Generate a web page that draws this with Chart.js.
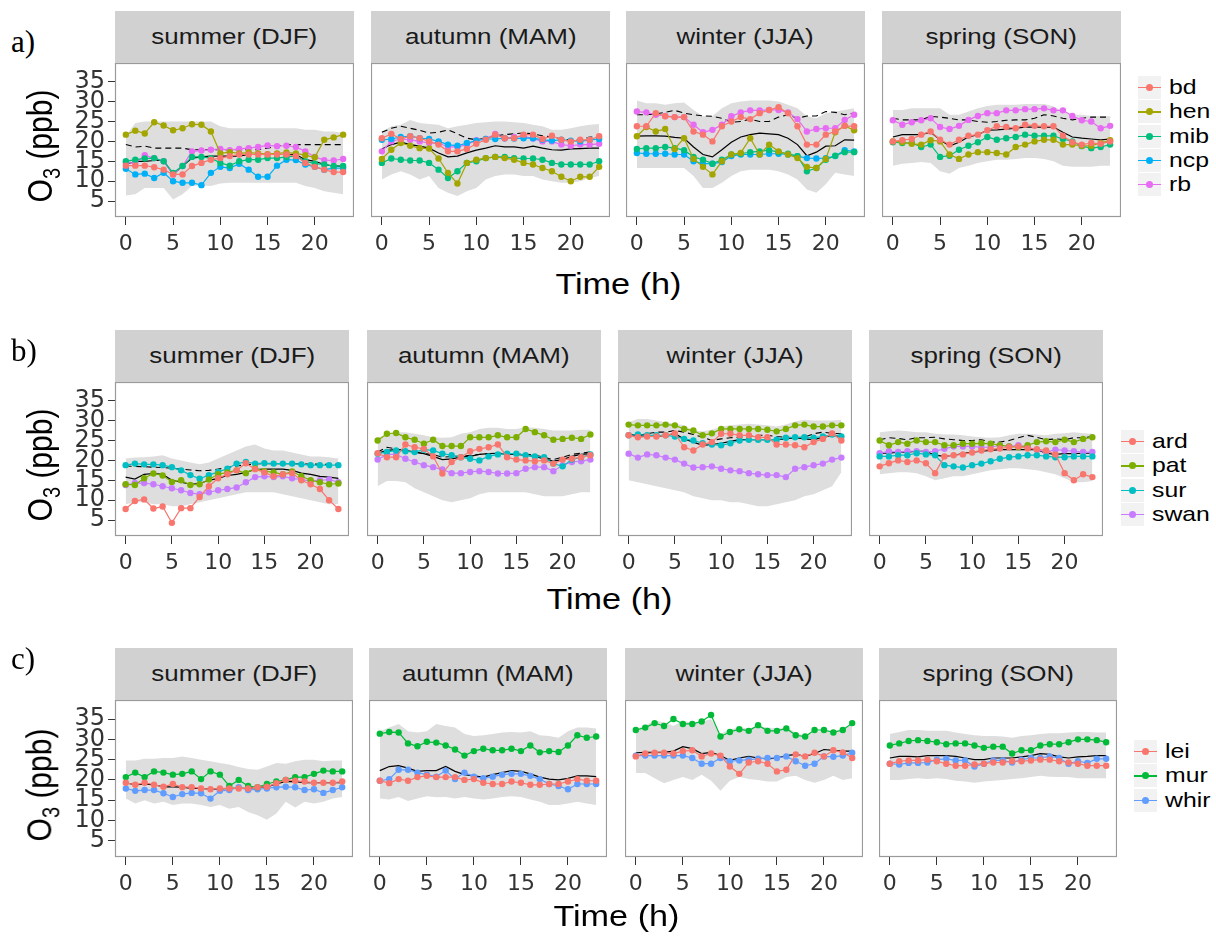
<!DOCTYPE html>
<html>
<head>
<meta charset="utf-8">
<script src="https://cdn.jsdelivr.net/npm/chart.js@4.4.1/dist/chart.umd.min.js"></script>
<style>
  body { margin:0; background:#fff; width:1216px; height:936px; position:relative; overflow:hidden;
         font-family:"Liberation Sans", Arial, sans-serif; }
  .strip { position:absolute; background:#d1d1d1; color:#1a1a1a; font-size:22px;
           display:flex; align-items:center; justify-content:center; }
  .strip span, .xt span, .leg span { display:inline-block; transform:scaleX(1.18); transform-origin:left center; }
  .strip span { transform-origin:center; }
  .xt { position:absolute; font-size:29px; color:#000; text-align:center; width:300px; }
  .xt span { transform-origin:center; }
  .yt { position:absolute; font-size:30px; color:#000; width:200px; height:36px; line-height:36px;
        text-align:center; transform:rotate(-90deg) scaleY(1.15); }
  .yt sub { font-size:20px; }
  .tag { position:absolute; font-family:"Liberation Serif", "Times New Roman", serif; font-size:31px; color:#000; }
  .leg { position:absolute; font-size:21px; color:#000; }
  .key { position:absolute; width:23px; height:23px; background:#f2f2f2; border:1px solid #fff; }
  .key i { position:absolute; left:0; right:0; top:11px; height:1.3px; }
  .key b { position:absolute; left:8px; top:8px; width:7px; height:7px; border-radius:50%; }
  canvas { position:absolute; }
</style>
</head>
<body>
<script>
// ---- data ----
const hours = [0,1,2,3,4,5,6,7,8,9,10,11,12,13,14,15,16,17,18,19,20,21,22,23];
const xTicks = [0,5,10,15,20];
const yTicks = [5,10,15,20,25,30,35];
const seasons = ['summer (DJF)','autumn (MAM)','winter (JJA)','spring (SON)'];

// row a) sites, each [DJF, MAM, JJA, SON]
const sitesA = ['bd','hen','mib','ncp','rb'];
const colorsA = ['#F8766D','#A3A500','#00BF7D','#00B0F6','#E76BF3'];
const bd = [
  [13.9,13.9,13.9,13.5,12.9,11.7,11.7,13.8,14.6,15.4,15.8,16.3,16.7,16.7,16.7,16.7,16.7,16.7,16.3,14.6,13.6,12.9,12.3,12.3],
  [20.8,21.9,20.6,21.3,20.8,20.0,19.2,17.5,17.5,18.1,19.4,20.4,21.7,20.8,20.8,21.7,21.7,20.6,21.4,20.4,20.0,20.4,20.4,21.3],
  [23.8,23.8,27.1,26.3,26.1,26.1,22.5,21.7,20.0,23.8,25.0,26.1,25.6,27.1,27.9,28.6,27.1,23.8,19.2,19.2,21.7,22.5,23.9,23.8],
  [20.0,20.3,20.6,21.7,22.5,20.4,19.2,20.4,21.4,21.7,22.8,23.8,23.6,23.3,24.2,23.9,23.8,23.8,21.4,19.8,19.2,19.6,19.4,20.0]];
const hen = [
  [21.7,22.7,22.0,24.8,24.0,22.8,23.3,24.3,24.2,22.5,17.0,17.3,17.0,17.2,17.0,16.8,17.0,17.2,17.0,16.5,16.0,20.4,21.0,21.7],
  [15.6,17.9,19.6,18.9,18.3,18.2,15.7,12.1,9.4,14.6,15.4,15.8,16.1,15.8,15.4,14.6,14.2,13.3,12.5,11.1,10.0,11.1,11.1,13.6],
  [21.3,23.6,22.5,23.1,18.1,20.8,15.6,13.6,11.7,15.0,16.7,17.1,20.8,16.7,19.2,17.5,16.7,15.8,13.6,13.3,15.6,22.3,23.9,22.8],
  [20.0,19.8,19.4,19.2,20.3,20.0,16.7,15.6,16.7,17.3,17.3,17.1,16.7,18.6,19.2,20.0,20.4,20.4,19.2,19.2,18.9,18.9,19.6,20.3]];
const mib = [
  [15.0,15.4,15.7,15.8,15.0,12.1,13.8,16.1,16.1,15.8,14.6,13.9,15.0,15.4,15.4,15.8,15.8,16.1,16.3,15.0,14.4,14.2,13.8,13.8],
  [14.6,15.7,15.4,15.2,15.2,14.6,12.9,10.8,12.5,14.6,15.0,15.8,16.1,16.1,15.8,15.7,15.7,15.4,14.6,14.2,14.2,14.2,14.2,15.0],
  [18.1,18.3,18.3,18.6,18.3,17.8,16.1,15.4,14.4,15.4,16.7,16.9,17.3,17.5,17.8,17.3,16.9,16.3,12.5,13.3,15.4,16.4,17.3,17.3],
  [19.8,19.6,19.6,18.6,19.2,16.1,16.4,17.9,18.9,19.8,21.1,20.4,20.8,21.1,21.7,21.4,21.4,21.4,20.6,20.0,18.8,18.3,18.6,19.2]];
const ncp = [
  [13.1,11.7,11.9,10.8,12.1,10.0,9.6,9.6,9.0,12.1,13.6,13.3,14.4,12.9,11.1,11.1,13.9,15.4,15.3,14.2,13.6,12.9,13.3,13.3],
  [20.4,20.6,21.1,21.3,20.8,20.6,20.0,19.2,18.9,19.6,20.2,20.6,20.6,20.8,20.7,20.8,20.8,20.4,20.2,20.4,20.2,20.0,20.4,20.6],
  [17.1,16.9,16.9,16.9,16.7,16.7,15.0,14.4,14.4,14.8,16.3,16.7,16.7,16.7,16.9,16.9,16.7,16.3,15.8,15.7,15.8,16.3,17.8,17.5],
  null];
const rb = [
  [14.6,14.6,16.5,15.8,15.0,11.7,13.8,17.5,17.7,17.9,18.1,17.8,18.1,18.3,18.6,19.0,18.8,18.9,18.6,17.5,16.1,15.3,15.2,15.6],
  [17.5,20.0,20.6,20.4,20.0,19.6,19.6,18.6,18.6,19.2,20.3,20.6,21.9,20.8,21.1,21.3,20.7,20.0,20.0,19.2,18.9,19.2,19.2,19.4],
  [27.5,27.3,26.7,26.4,26.1,26.1,24.2,22.3,22.9,24.2,26.3,27.3,27.8,27.8,27.9,27.9,27.3,25.6,22.5,23.1,23.3,23.3,25.4,26.7],
  [25.3,24.2,24.8,25.3,25.8,23.6,23.1,23.9,25.4,26.4,27.1,27.1,27.8,27.8,28.1,28.1,28.3,27.8,27.8,26.4,25.3,25.0,23.3,23.9]];
const meanA = [
  [14.2,15.0,15.0,15.2,15.2,11.7,13.8,15.8,16.1,16.3,16.3,16.3,16.3,16.7,16.7,16.7,16.7,16.7,16.7,15.4,15.0,14.2,13.8,13.8],
  [18.1,19.2,19.8,19.2,18.8,18.3,17.1,16.1,16.3,17.1,17.8,18.3,18.9,18.6,18.6,18.3,18.8,18.3,17.9,17.8,18.1,18.2,18.3,18.3],
  [21.3,21.4,21.4,21.3,21.0,20.8,18.6,16.7,16.1,17.9,19.8,21.1,21.7,22.1,21.9,21.7,20.8,19.2,16.4,17.3,18.8,18.9,20.4,20.3],
  [21.1,21.7,21.7,21.7,22.3,20.4,18.8,19.8,21.1,21.7,22.8,22.9,23.1,23.3,23.6,23.6,23.6,23.6,22.3,21.1,20.8,20.6,20.4,20.6]];
const dashA = [
  [19.2,18.6,18.8,18.3,18.3,18.3,18.3,17.9,17.9,17.9,17.9,17.9,17.9,17.9,17.9,18.3,18.8,19.2,19.2,19.2,19.2,19.2,19.2,19.2],
  [22.3,23.3,23.8,23.3,22.8,22.1,22.3,22.9,21.9,20.8,20.4,20.8,21.4,21.7,21.9,22.1,21.9,21.4,21.1,20.6,20.4,20.4,21.1,21.1],
  [26.7,26.7,26.9,27.3,27.8,27.1,26.7,26.4,26.3,25.8,24.8,25.0,25.6,25.0,25.0,26.1,26.7,25.8,26.4,26.4,27.5,27.3,26.7,27.1],
  [25.8,25.4,25.4,25.4,26.3,26.1,25.8,25.4,25.4,25.0,24.8,25.0,25.3,25.4,25.4,25.8,26.7,26.4,25.8,25.4,25.8,26.1,26.1,26.1]];
const hiA = [
  [21.4,24.6,25.0,25.0,25.0,25.0,25.0,25.0,25.0,25.0,23.8,23.3,23.3,23.3,23.3,23.3,23.3,23.3,23.3,22.9,22.9,22.5,22.5,22.1],
  [22.5,23.8,24.2,25.4,24.6,24.4,24.2,23.3,23.8,24.2,24.6,24.8,25.0,25.0,24.8,24.6,24.2,23.8,22.9,22.9,23.3,23.8,24.2,24.4],
  [30.3,29.6,29.6,29.2,29.6,29.8,27.9,26.3,26.4,28.3,29.6,30.0,30.3,30.3,30.3,30.0,29.2,28.3,26.3,25.8,27.1,27.5,27.9,28.3],
  [27.9,27.9,28.3,28.3,28.3,28.3,26.7,26.7,27.5,28.3,28.9,29.2,29.2,29.2,29.4,29.4,29.4,28.8,27.5,26.7,26.7,26.4,26.4,26.3]];
const loA = [
  [6.4,6.7,8.3,8.3,8.3,5.4,6.7,8.8,8.9,8.8,9.4,9.6,9.6,9.6,9.6,9.6,9.6,9.6,9.6,8.8,8.3,7.5,7.1,6.7],
  [10.4,11.7,12.5,11.7,10.4,11.3,8.3,7.1,6.3,7.5,8.3,10.4,11.3,11.7,11.7,11.3,11.3,10.4,10.0,9.6,9.6,10.0,10.8,11.3],
  [13.3,13.3,13.3,13.3,13.3,13.3,11.3,8.3,8.3,9.6,11.3,12.5,12.9,12.9,12.9,12.5,11.7,10.4,7.9,7.1,9.2,12.1,11.7,11.3],
  [13.9,14.4,14.6,14.8,14.6,12.5,11.9,13.3,13.9,14.6,15.0,15.4,15.4,15.6,15.8,15.8,15.6,15.0,13.9,13.6,13.6,13.6,13.9,13.9]];

// row b)
const sitesB = ['ard','pat','sur','swan'];
const colorsB = ['#F8766D','#7CAE00','#00BFC4','#C77CFF'];
const ard = [
  [7.8,9.8,10.2,7.9,8.4,4.3,8.0,8.0,10.8,13.5,15.5,16.5,17.5,19.3,17.8,17.0,16.0,16.5,16.8,15.0,14.0,12.8,10.0,7.8],
  [21.8,20.8,20.8,24.0,23.3,22.9,21.0,16.7,19.6,20.8,22.3,22.9,23.3,24.0,20.8,20.2,20.0,19.8,20.0,19.2,20.2,20.4,20.8,21.3],
  [26.3,25.8,26.0,26.0,26.3,26.8,23.3,22.5,24.0,24.6,26.7,26.7,26.3,26.3,25.8,25.8,24.0,24.0,23.8,23.3,24.6,25.4,26.8,25.0],
  [18.5,19.3,20.0,19.6,20.0,19.3,16.8,21.0,21.3,21.5,22.0,22.5,22.8,23.0,23.3,23.5,23.0,22.8,22.5,21.5,16.8,15.0,16.5,15.8]];
const pat = [
  [14.0,13.8,15.5,16.7,16.2,14.6,15.0,13.8,14.0,15.2,16.5,17.0,17.5,16.8,18.0,17.3,17.0,16.5,17.2,16.0,15.0,14.5,14.0,14.2],
  [25.0,26.7,26.9,25.8,25.2,24.2,25.2,23.6,23.6,23.6,25.8,25.8,25.8,26.3,25.8,25.8,27.9,27.1,26.3,25.2,25.4,25.7,25.4,26.5],
  [29.0,28.8,28.8,28.8,29.0,28.8,27.9,27.5,26.3,26.8,27.9,27.9,27.9,27.9,27.9,27.7,27.3,27.9,28.8,29.0,28.5,28.5,28.8,28.8],
  [25.0,23.8,24.6,24.2,25.0,24.6,24.6,23.8,23.8,24.2,24.2,24.3,24.2,23.8,23.5,23.3,23.8,24.6,24.8,24.6,25.2,24.6,25.4,25.8]];
const sur = [
  [18.8,19.2,19.0,19.0,18.8,18.3,17.5,16.3,15.4,16.3,17.1,17.9,19.2,19.6,19.2,19.3,19.2,19.2,19.2,19.0,18.8,18.8,18.8,18.8],
  [21.7,22.1,22.5,22.3,22.1,22.7,22.5,21.7,21.3,20.8,20.4,20.0,21.0,21.5,21.7,21.7,21.3,21.0,20.8,19.2,18.5,20.2,20.8,21.5],
  [26.3,26.5,26.3,26.3,26.3,26.0,25.4,25.0,24.3,24.0,23.8,24.3,25.0,25.2,25.2,25.2,25.2,25.7,25.8,25.8,25.7,26.0,26.5,26.0],
  [21.0,21.0,21.3,21.3,21.8,21.5,21.3,18.8,18.5,18.2,18.8,19.2,19.8,20.4,20.8,21.0,21.3,21.3,21.0,20.8,20.8,21.0,21.0,21.0]];
const swan = [
  [13.8,14.3,14.3,14.0,13.5,13.0,12.5,11.8,11.5,12.0,12.5,12.8,13.2,14.5,15.8,16.0,15.8,16.0,15.5,15.2,14.8,15.0,15.2,14.5],
  [20.2,21.5,21.5,20.4,19.6,18.8,18.3,17.7,16.8,16.8,17.1,17.3,17.1,16.7,16.7,16.8,17.9,18.3,18.3,17.3,18.8,19.6,19.8,20.2],
  [21.7,20.7,21.5,21.3,20.7,20.2,19.2,18.2,18.3,18.5,17.9,17.5,17.3,16.8,16.5,16.3,16.3,15.8,17.9,18.3,18.8,19.2,20.2,20.7],
  [21.8,22.3,22.1,22.3,22.3,22.1,22.3,22.9,23.5,23.5,23.5,23.3,23.3,23.8,23.5,23.8,23.3,22.7,22.1,22.7,22.5,22.3,22.1,22.1]];
const meanB = [
  [15.8,15.3,16.5,16.7,16.5,15.0,14.5,14.0,14.2,15.0,15.5,16.2,16.5,17.0,17.7,17.8,17.8,17.8,17.5,16.8,16.5,16.0,15.8,15.5],
  [21.8,22.5,22.7,22.5,22.1,21.7,21.0,20.2,20.4,20.8,21.0,21.5,21.7,21.8,21.5,21.5,21.3,21.0,20.4,19.8,20.2,21.0,21.5,21.7],
  [26.5,26.3,26.0,26.0,26.3,26.7,25.4,24.6,23.8,24.0,24.3,24.8,25.2,25.2,25.2,25.2,25.2,25.4,25.7,25.4,25.2,25.8,26.3,26.0],
  [21.8,21.8,22.1,22.1,22.3,22.3,21.3,21.0,21.3,21.7,22.1,22.3,22.5,22.7,22.7,22.7,22.7,22.7,21.8,21.5,21.7,21.7,21.8,21.8]];
const dashB = [
  [18.6,18.5,18.4,18.3,18.2,18.0,17.8,17.6,17.4,17.5,17.8,18.2,18.6,18.9,19.1,19.2,19.2,19.2,19.2,19.1,19.1,19.0,19.0,19.0],
  [22.1,23.3,22.9,22.3,22.1,21.7,21.5,20.8,21.0,21.0,21.3,21.5,21.7,21.8,21.7,21.5,21.5,21.3,20.8,20.2,20.8,21.5,21.8,22.1],
  [26.5,26.3,26.7,27.1,27.1,27.5,27.1,26.5,25.8,25.0,25.4,25.7,25.8,26.0,26.3,26.3,26.0,25.8,25.7,25.8,26.7,27.1,26.8,26.7],
  [25.2,25.7,25.5,25.2,25.7,25.7,25.8,25.4,25.2,25.0,25.0,25.2,24.6,24.6,25.0,25.7,26.3,25.8,25.2,25.4,25.2,25.7,25.7,26.0]];
const hiB = [
  [20.5,20.7,20.8,21.0,21.3,20.5,20.0,19.5,19.0,19.5,20.5,21.5,22.5,23.5,24.0,23.0,22.5,22.5,22.0,21.5,21.0,21.0,20.8,20.5],
  [25.8,26.3,27.1,27.1,26.7,26.3,25.8,25.7,25.8,26.7,27.1,27.9,28.2,28.2,27.9,27.9,28.3,28.2,27.9,27.5,27.5,27.5,27.7,27.7],
  [29.6,30.4,30.4,30.0,29.6,29.2,28.8,27.5,27.3,27.7,28.5,28.8,29.0,29.2,29.0,28.8,28.5,29.0,29.8,30.2,30.0,30.0,30.0,30.2],
  [27.1,27.3,27.5,27.3,27.1,27.1,26.7,26.5,26.5,26.3,26.0,25.8,25.7,25.8,26.3,26.7,26.7,26.5,26.3,26.7,26.8,27.1,26.8,26.7]];
const loB = [
  [9.0,9.5,9.5,9.0,9.0,8.5,8.5,9.0,9.5,10.0,10.5,11.0,11.5,12.0,12.0,12.0,12.0,11.5,11.0,10.5,10.0,9.5,9.0,9.0],
  [13.5,14.8,14.8,14.5,13.0,12.0,11.0,10.0,9.5,10.0,10.5,11.5,12.0,12.0,12.0,12.0,12.0,11.5,11.0,11.0,11.0,11.5,12.0,12.0],
  [15.0,14.5,14.0,13.5,13.0,12.5,12.0,11.0,10.5,10.0,10.0,9.5,9.5,9.0,8.5,8.5,9.0,9.5,10.0,11.0,11.5,12.5,13.5,17.0],
  [16.5,16.8,17.0,17.0,16.8,16.0,15.0,15.5,16.0,16.0,16.5,17.0,17.5,17.8,18.0,18.0,17.8,17.5,17.0,16.5,15.5,14.5,14.5,14.8]];

// row c)
const sitesC = ['lei','mur','whir'];
const colorsC = ['#F8766D','#00BA38','#619CFF'];
const lei = [
  [19.3,18.8,19.3,18.8,18.3,19.0,18.2,18.2,17.9,17.7,17.9,17.9,17.9,17.9,18.2,18.3,19.2,20.0,19.8,19.6,19.3,19.3,19.3,19.6],
  [19.8,19.2,20.2,19.8,20.7,21.0,20.7,20.7,20.7,20.0,20.2,19.3,19.0,19.0,19.6,19.3,18.8,18.8,19.0,19.0,19.6,20.2,19.8,19.8],
  [25.8,26.5,26.7,26.7,26.5,27.1,27.3,25.8,26.5,26.0,23.3,21.5,24.3,24.6,24.0,22.1,22.5,26.3,25.8,26.7,25.8,27.3,26.8,25.4],
  [24.0,24.6,24.8,24.8,25.0,24.6,24.0,23.5,23.5,23.8,24.0,24.3,24.3,24.6,24.6,24.8,25.0,25.0,24.6,24.3,24.0,23.5,23.5,23.5]];
const mur = [
  [20.7,21.8,20.7,22.1,21.8,21.3,21.5,22.1,20.2,22.1,21.3,18.5,20.0,18.5,18.2,19.0,19.6,20.0,20.7,20.7,21.5,22.3,22.1,22.1],
  [31.4,31.8,31.7,29.0,28.3,29.4,29.2,28.5,27.5,26.0,27.1,27.7,27.3,27.3,27.7,27.1,28.5,26.8,27.1,26.9,28.5,31.0,30.4,30.7],
  [32.3,32.9,34.0,33.3,35.0,33.8,33.8,34.4,36.0,30.7,31.8,32.5,32.1,33.5,32.1,32.1,32.7,31.0,30.7,32.3,32.3,31.7,32.3,34.0],
  [28.5,29.0,29.6,29.8,29.6,29.3,28.8,29.0,29.0,28.5,27.9,28.2,28.2,26.5,27.3,27.3,28.5,28.8,28.8,29.3,30.0,30.0,29.8,29.3]];
const whir = [
  [17.9,17.3,17.5,17.5,16.7,15.8,16.5,16.8,16.7,15.4,17.3,17.5,18.2,17.5,17.7,17.9,18.2,18.3,18.2,17.5,17.7,16.8,17.5,18.2],
  [19.8,20.2,22.5,22.5,21.8,21.3,20.8,22.3,20.2,21.8,20.8,20.4,20.8,21.3,21.5,21.5,21.0,20.2,19.0,18.5,17.7,19.0,19.0,19.0],
  [26.0,26.0,26.0,26.0,26.0,26.0,25.4,24.0,24.0,25.4,24.6,24.8,25.0,25.2,25.4,25.4,25.8,24.6,23.5,24.0,25.8,25.7,26.0,26.7],
  [24.0,23.8,24.2,24.2,24.3,25.0,25.2,24.8,24.8,23.3,24.0,24.8,24.8,24.3,25.0,25.4,25.4,25.8,25.4,24.0,24.6,24.2,25.2,25.2]];
const meanC = [
  [19.3,18.8,19.0,18.8,18.3,18.3,18.2,17.9,17.9,17.7,17.8,17.9,17.9,17.9,18.2,18.3,19.0,19.6,19.6,19.3,19.3,19.3,19.3,19.3],
  [22.3,23.3,23.5,22.9,22.1,22.3,22.3,23.3,22.1,21.3,21.0,20.7,21.3,21.8,22.3,22.1,21.5,20.7,20.2,20.0,20.4,21.0,21.0,20.8],
  [26.7,26.8,26.8,26.8,27.1,28.2,27.7,26.5,26.8,26.0,24.8,25.4,25.8,25.4,25.2,25.4,26.0,26.3,25.8,26.5,27.5,27.3,27.1,27.1],
  [25.4,25.8,25.8,25.7,26.0,26.0,26.0,25.8,25.4,25.0,25.0,25.4,25.4,25.4,25.7,26.0,26.5,26.3,25.7,25.4,25.7,25.8,26.0,26.0]];
const hiC = [
  [24.8,24.8,25.2,25.2,25.4,25.4,25.8,25.4,25.0,24.6,24.2,23.8,23.2,22.7,22.5,23.3,24.2,24.0,24.6,25.0,25.0,24.6,24.8,24.8],
  [32.0,32.9,33.8,32.0,31.7,32.0,33.8,33.3,32.9,31.3,30.8,31.0,31.3,31.7,31.8,31.7,32.0,31.0,30.8,30.4,32.0,32.9,32.9,32.7],
  [32.5,33.5,34.6,34.2,33.3,34.6,34.0,34.3,35.0,31.3,32.5,32.9,32.7,33.3,32.9,32.7,32.9,31.7,30.8,31.8,32.1,32.1,32.5,34.2],
  [31.3,31.8,32.3,32.3,32.1,32.1,32.1,31.7,31.3,31.0,30.8,30.8,30.7,30.4,30.8,31.0,31.3,31.5,31.5,31.7,31.8,31.8,31.7,31.7]];
const loC = [
  [15.4,14.2,15.0,14.2,14.6,13.8,14.2,14.2,13.8,13.3,13.8,12.9,13.3,12.1,11.3,10.2,11.7,14.6,13.2,14.6,14.2,14.6,15.4,15.8],
  [15.4,15.2,15.8,14.8,15.4,16.0,15.7,15.8,15.4,15.8,15.4,15.2,15.4,15.8,16.0,15.8,15.2,14.6,13.8,13.8,14.2,14.6,14.2,13.8],
  [21.7,21.7,20.4,19.2,20.0,20.7,20.0,21.3,19.8,17.3,19.8,20.7,20.2,20.0,19.6,19.6,20.7,21.0,20.0,19.3,20.0,21.0,20.0,20.4],
  [20.0,20.0,20.2,20.4,20.2,20.4,20.2,19.8,19.6,19.3,19.6,19.8,20.0,20.2,20.4,20.7,21.0,20.8,20.7,20.7,20.4,20.4,20.4,20.4]];

// ---- layout ----
const rows = [
  { tag:'a)', tagY:24, stripTop:11, top:63, h:154, w:239, lefts:[115,371,626,882], titleY:268,
    sites:sitesA, colors:colorsA, series:[bd,hen,mib,ncp,rb], mean:meanA, dash:dashA, hi:hiA, lo:loA,
    legX:1137, legY:75 },
  { tag:'b)', tagY:333, stripTop:330, top:382, h:154, w:234, lefts:[115,367,618,869], titleY:583,
    sites:sitesB, colors:colorsB, series:[ard,pat,sur,swan], mean:meanB, dash:dashB, hi:hiB, lo:loB,
    legX:1120, legY:429 },
  { tag:'c)', tagY:641, stripTop:648, top:700, h:157, w:238, lefts:[115,369,625,879], titleY:900,
    sites:sitesC, colors:colorsC, series:[lei,mur,whir], mean:meanC, dash:null, hi:hiC, lo:loC,
    legX:1133, legY:739 }
];
const YAXIS_W = 60, XAXIS_H = 44;

function el(tag, cls, css, html) {
  const e = document.createElement(tag);
  if (cls) e.className = cls;
  Object.assign(e.style, css);
  if (html != null) e.innerHTML = html;
  document.body.appendChild(e);
  return e;
}
const pts = arr => arr.map((v, i) => ({ x: hours[i], y: v }));

const frame = {
  id: 'frame',
  afterDatasetsDraw(chart) {
    const a = chart.chartArea, ctx = chart.ctx;
    ctx.save();
    ctx.strokeStyle = '#9a9a9a';
    ctx.lineWidth = 1.2;
    ctx.strokeRect(a.left + 0.5, a.top + 0.5, a.right - a.left - 1, a.bottom - a.top - 1);
    ctx.restore();
  }
};

function panel(r, col) {
  const first = col === 0;
  const left = r.lefts[col] - (first ? YAXIS_W : 0);
  const cv = el('canvas', null, { left: left + 'px', top: r.top + 'px' });
  cv.width = r.w + (first ? YAXIS_W : 0);
  cv.height = r.h + XAXIS_H;

  const ds = [];
  r.series.forEach((s, k) => {
    if (!s[col]) return;
    ds.push({ label: r.sites[k], data: pts(s[col]), borderColor: r.colors[k], backgroundColor: r.colors[k],
      borderWidth: 1.2, pointRadius: 3.2, pointBorderWidth: 0, fill: false, order: 1 });
  });
  ds.push({ label: 'mean', data: pts(r.mean[col]), borderColor: '#000', borderWidth: 1.2, pointRadius: 0, fill: false, order: 5 });
  if (r.dash) ds.push({ label: 'dash', data: pts(r.dash[col]), borderColor: '#000', borderWidth: 1.1,
    borderDash: [6, 4], pointRadius: 0, fill: false, order: 6 });
  ds.push({ label: 'hi', data: pts(r.hi[col]), borderWidth: 0, borderColor: 'rgba(0,0,0,0)', pointRadius: 0,
    backgroundColor: '#dedede', fill: '+1', order: 9 });
  ds.push({ label: 'lo', data: pts(r.lo[col]), borderWidth: 0, borderColor: 'rgba(0,0,0,0)', pointRadius: 0,
    fill: false, order: 10 });

  new Chart(cv, {
    type: 'line',
    data: { datasets: ds },
    plugins: [frame],
    options: {
      responsive: false, animation: false, devicePixelRatio: 1,
      layout: { padding: 0, autoPadding: false },
      elements: { line: { tension: 0 } },
      plugins: { legend: { display: false }, tooltip: { enabled: false },
                 filler: { drawTime: 'beforeDatasetsDraw', propagate: false } },
      scales: {
        x: { type: 'linear', min: -1.15, max: 24.15,
          afterBuildTicks: s => { s.ticks = xTicks.map(v => ({ value: v })); },
          afterFit: s => { s.height = XAXIS_H; s.paddingLeft = 0; s.paddingRight = 0; },
          ticks: { autoSkip: false, maxRotation: 0, padding: 6, color: '#333',
                   font: { family: 'DejaVu Sans', size: 22 } },
          grid: { drawOnChartArea: false, drawTicks: true, tickLength: 8, color: '#333' },
          border: { display: false } },
        y: { type: 'linear', min: 1, max: 39.7, display: first,
          afterBuildTicks: s => { s.ticks = yTicks.map(v => ({ value: v })); },
          afterFit: s => { s.width = first ? YAXIS_W : 0; s.paddingTop = 0; s.paddingBottom = 0; },
          ticks: { autoSkip: false, padding: 3, color: '#333',
                   font: { family: 'DejaVu Sans', size: 24, lineHeight: 1 } },
          grid: { drawOnChartArea: false, drawTicks: true, tickLength: 7, color: '#333' },
          border: { display: false } }
      }
    }
  });
}

rows.forEach(r => {
  el('div', 'tag', { left: '11px', top: r.tagY + 'px' }, r.tag);
  r.lefts.forEach((x, c) => {
    el('div', 'strip', { left: x + 'px', top: r.stripTop + 'px', width: r.w + 'px', height: (r.top - r.stripTop) + 'px' },
       '<span>' + seasons[c] + '</span>');
    panel(r, c);
  });
  const mid = (r.lefts[0] + r.lefts[3] + r.w) / 2;
  el('div', 'xt', { left: (mid - 150) + 'px', top: r.titleY + 'px' }, '<span>Time (h)</span>');
  el('div', 'yt', { left: (40 - 100) + 'px', top: (r.top + r.h / 2 + 6 - 18) + 'px' }, 'O<sub>3</sub> (ppb)');
  r.sites.forEach((s, k) => {
    const y = r.legY + k * 24.3;
    el('div', 'key', { left: r.legX + 'px', top: y + 'px' },
       '<i style="background:' + r.colors[k] + '"></i><b style="background:' + r.colors[k] + '"></b>');
    el('div', 'leg', { left: (r.legX + 32) + 'px', top: (y + 0) + 'px', lineHeight: '24px' }, '<span>' + s + '</span>');
  });
});
</script>
</body>
</html>
